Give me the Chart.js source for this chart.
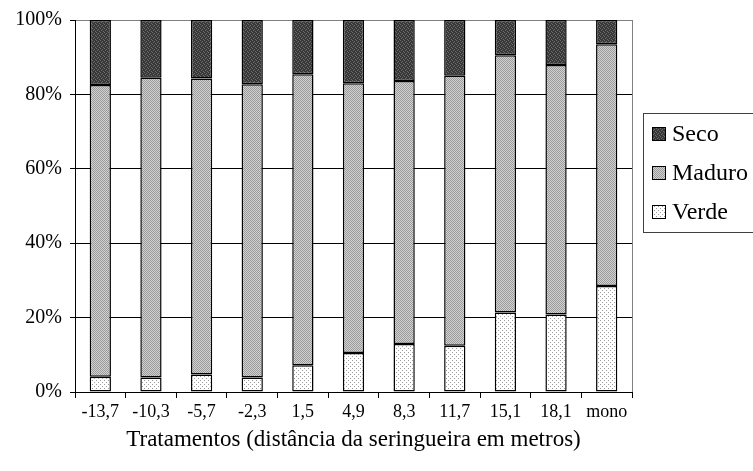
<!DOCTYPE html>
<html>
<head>
<meta charset="utf-8">
<script src="https://cdn.jsdelivr.net/npm/chart.js"></script>
<style>
  html, body { margin: 0; padding: 0; background: #fff; }
  #chart { display: block; }
</style>
</head>
<body>
<canvas id="chart" width="753" height="471"></canvas>
<script>
const categories = ['-13,7', '-10,3', '-5,7', '-2,3', '1,5', '4,9', '8,3', '11,7', '15,1', '18,1', 'mono'];
const verde  = [4.1, 3.9, 4.7, 3.9, 7.2, 10.5, 12.9, 12.4, 21.4, 20.8, 28.5];
const maduro = [78.4, 80.6, 79.6, 78.8, 78.2, 72.5, 70.7, 72.6, 69.1, 67.1, 65.0];
const seco   = [17.5, 15.5, 15.7, 17.3, 14.6, 17.0, 16.4, 15.0, 9.5, 12.1, 6.5];
const yTicks = [0, 20, 40, 60, 80, 100];

const serif = "'Liberation Serif', 'Times New Roman', serif";

// small pixel patterns like the old excel fills
function makePattern(bg, fg, dots, size) {
    const c = document.createElement('canvas');
    c.width = size; c.height = size;
    const g = c.getContext('2d');
    g.fillStyle = bg;
    g.fillRect(0, 0, size, size);
    g.fillStyle = fg;
    dots.forEach(d => g.fillRect(d[0], d[1], 1, 1));
    return g.createPattern(c, 'repeat');
}

const ctx = document.querySelector('#chart').getContext('2d');
const secoFill   = makePattern('#383838', '#6c6c6c', [[0, 0], [2, 1], [1, 2], [3, 3]], 4);
const maduroFill = makePattern('#d2d2d2', '#9a9a9a', [[0, 0], [2, 0], [1, 1], [3, 1], [0, 2], [2, 2], [1, 3], [3, 3]], 4);
const verdeFill  = makePattern('#ffffff', '#9a9a9a', [[0, 0], [2, 2]], 4);

// gray frame on the right side of the plot
const frame = {
    id: 'frame',
    beforeDatasetsDraw(chart) {
        const a = chart.chartArea;
        const g = chart.ctx;
        g.save();
        g.strokeStyle = '#808080';
        g.lineWidth = 1;
        g.beginPath();
        g.moveTo(a.right + 0.5, a.top);
        g.lineTo(a.right + 0.5, a.bottom);
        g.stroke();
        g.restore();
    }
};

// legend box on the right, drawn by hand to sit where the original is
const sideLegend = {
    id: 'sideLegend',
    afterDraw(chart) {
        const g = chart.ctx;
        g.save();
        g.strokeStyle = '#404040';
        g.lineWidth = 1;
        g.strokeRect(643.5, 113.5, 130, 119);
        const items = chart.data.datasets.slice().reverse();
        items.forEach((ds, i) => {
            const cy = 134 + i * 39;
            g.fillStyle = ds.backgroundColor;
            g.fillRect(652, cy - 7, 14, 14);
            g.strokeStyle = '#000';
            g.strokeRect(652.5, cy - 6.5, 13, 13);
            g.fillStyle = '#000';
            g.font = '24px ' + serif;
            g.textBaseline = 'middle';
            g.fillText(ds.label, 672, cy + 1);
        });
        g.restore();
    }
};

new Chart(ctx, {
    type: 'bar',
    data: {
        labels: categories,
        datasets: [
            { label: 'Verde',  data: verde,  backgroundColor: verdeFill },
            { label: 'Maduro', data: maduro, backgroundColor: maduroFill },
            { label: 'Seco',   data: seco,   backgroundColor: secoFill }
        ].map(d => Object.assign(d, {
            borderColor: '#000',
            borderWidth: 1.5,
            borderSkipped: false,
            barPercentage: 0.42,
            categoryPercentage: 1
        }))
    },
    options: {
        responsive: false,
        animation: false,
        devicePixelRatio: 1,
        layout: { padding: { top: 19, right: 121, left: 0, bottom: 13 } },
        plugins: {
            legend: { display: false },
            tooltip: { enabled: false }
        },
        scales: {
            x: {
                stacked: true,
                grid: { offset: true, drawOnChartArea: false, drawTicks: true, tickLength: 6, color: '#000' },
                border: { color: '#000', width: 1 },
                ticks: { color: '#000', font: { family: serif, size: 18 }, padding: 3, maxRotation: 0 },
                title: {
                    display: true,
                    text: 'Tratamentos (distância da seringueira em metros)',
                    color: '#000',
                    font: { family: serif, size: 23 }
                },
                afterFit: s => { s.height = 66; }
            },
            y: {
                stacked: true,
                min: 0,
                max: 100,
                afterBuildTicks: s => { s.ticks = yTicks.map(v => ({ value: v })); },
                grid: {
                    color: c => (c.tick && c.tick.value === 100) ? '#808080' : '#000',
                    tickColor: '#000',
                    tickLength: 5
                },
                border: { color: '#000', width: 1 },
                ticks: {
                    color: '#000',
                    font: { family: serif, size: 20 },
                    padding: 8,
                    callback: v => v + '%'
                },
                afterFit: s => { s.width = 75; }
            }
        }
    },
    plugins: [frame, sideLegend]
});
</script>
</body>
</html>
